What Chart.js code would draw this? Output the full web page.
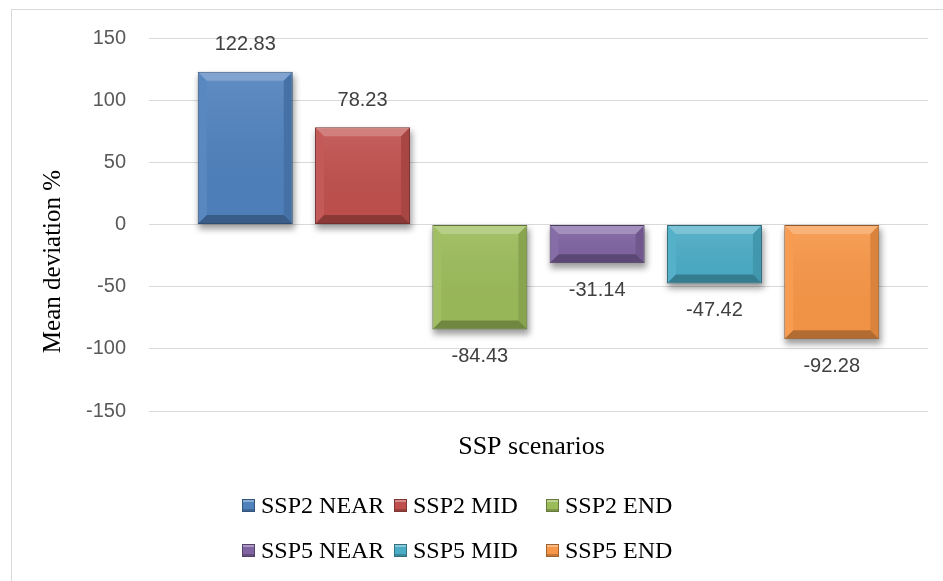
<!DOCTYPE html>
<html>
<head>
<meta charset="utf-8">
<script src="https://cdn.jsdelivr.net/npm/chart.js@4.4.1/dist/chart.umd.min.js"></script>
<style>
  html, body { margin: 0; padding: 0; background: #fff; overflow: hidden; }
  #wrap { position: relative; width: 943px; height: 581px; overflow: hidden; background: #fff; }
  #frame { position: absolute; left: 11px; top: 9px; width: 1000px; height: 1000px; border: 1px solid #d9d9d9; box-sizing: border-box; }
  canvas { position: absolute; left: 0; top: 0; }
  #legend { position: absolute; left: 242px; top: 491px; display: grid;
            grid-template-columns: 152px 152px 152px; grid-auto-rows: 28px; row-gap: 17px;
            font-family: "Liberation Serif", "Times New Roman", serif; font-size: 24px; color: #000; }
  .item { display: flex; align-items: center; white-space: nowrap; }
  .box { width: 13px; height: 13px; box-sizing: border-box; margin-right: 6px; flex: none; }
</style>
</head>
<body>
<div id="wrap">
  <div id="frame"></div>
  <canvas id="c" width="943" height="581"></canvas>
  <div id="legend"></div>
</div>
<script>
// ---- data ----
const categories = ['SSP scenarios'];
const seriesNames = ['SSP2 NEAR', 'SSP2 MID', 'SSP2 END', 'SSP5 NEAR', 'SSP5 MID', 'SSP5 END'];
const seriesValues = [122.83, 78.23, -84.43, -31.14, -47.42, -92.28];
const seriesColors = ['#4F81BD', '#C0504D', '#9BBB59', '#8064A2', '#4BACC6', '#F79646'];
const yTicks = [-150, -100, -50, 0, 50, 100, 150];
const xTitle = 'SSP scenarios';
const yTitle = 'Mean deviation %';

function shade(hex, f) {
  const n = parseInt(hex.slice(1), 16);
  let r = (n >> 16) & 255, g = (n >> 8) & 255, b = n & 255;
  if (f >= 0) { r += (255 - r) * f; g += (255 - g) * f; b += (255 - b) * f; }
  else { r *= 1 + f; g *= 1 + f; b *= 1 + f; }
  return 'rgb(' + Math.round(r) + ',' + Math.round(g) + ',' + Math.round(b) + ')';
}

const datasets = seriesNames.map((name, i) => ({
  label: name,
  data: [seriesValues[i]],
  backgroundColor: seriesColors[i],
  borderColor: shade(seriesColors[i], -0.4),
  borderWidth: 1,
  borderSkipped: false
}));

function barBox(el) {
  const w = el.width;
  return { l: el.x - w / 2, r: el.x + w / 2, t: Math.min(el.y, el.base), b: Math.max(el.y, el.base) };
}

// soft drop shadow under each bar (drawn from the bar elements' own geometry)
const shadowPlugin = {
  id: 'shadow',
  beforeDatasetsDraw(chart) {
    const ctx = chart.ctx;
    ctx.save();
    ctx.filter = 'blur(3px)';
    ctx.fillStyle = 'rgba(0,0,0,0.38)';
    chart.data.datasets.forEach((ds, di) => {
      chart.getDatasetMeta(di).data.forEach(el => {
        const bb = barBox(el);
        ctx.fillRect(bb.l + 1, bb.t + 4, bb.r - bb.l + 1, bb.b - bb.t + 1);
      });
    });
    ctx.restore();
  }
};

// bevel effect + data labels
const bevelPlugin = {
  id: 'bevel',
  afterDatasetsDraw(chart) {
    const ctx = chart.ctx;
    chart.data.datasets.forEach((ds, di) => {
      const meta = chart.getDatasetMeta(di);
      meta.data.forEach((el, j) => {
        const bb = barBox(el);
        const l = bb.l + 1, r = bb.r - 1, t = bb.t + 1, btm = bb.b - 1;
        const b = Math.min(8, (btm - t) / 2, (r - l) / 2);
        const poly = (pts, fill) => {
          ctx.beginPath();
          ctx.moveTo(pts[0][0], pts[0][1]);
          for (let k = 1; k < pts.length; k++) ctx.lineTo(pts[k][0], pts[k][1]);
          ctx.closePath();
          ctx.fillStyle = fill;
          ctx.fill();
        };
        ctx.save();
        const g = ctx.createLinearGradient(0, t, 0, btm);
        g.addColorStop(0, 'rgba(255,255,255,0.10)');
        g.addColorStop(1, 'rgba(0,0,0,0.02)');
        ctx.fillStyle = g;
        ctx.fillRect(l + b, t + b, r - l - 2 * b, btm - t - 2 * b);
        poly([[l, t], [r, t], [r - b, t + b], [l + b, t + b]], 'rgba(255,255,255,0.28)');
        poly([[l, t], [l + b, t + b], [l + b, btm - b], [l, btm]], 'rgba(255,255,255,0.06)');
        poly([[r, t], [r, btm], [r - b, btm - b], [r - b, t + b]], 'rgba(0,0,0,0.12)');
        poly([[l, btm], [r, btm], [r - b, btm - b], [l + b, btm - b]], 'rgba(0,0,0,0.28)');
        ctx.restore();

        const v = ds.data[j];
        ctx.save();
        ctx.font = '20px "Liberation Sans", Arial, sans-serif';
        ctx.fillStyle = '#404040';
        ctx.textAlign = 'center';
        ctx.textBaseline = 'middle';
        const ly = v >= 0 ? el.y - 27 : el.y + 27;
        ctx.fillText(v.toFixed(2), el.x, ly);
        ctx.restore();
      });
    });
  }
};

// shift axis titles to where the reference places them
const titleShift = {
  id: 'titleShift',
  afterLayout(chart) {
    const wrap = (s, dx, dy) => {
      if (s && !s._shiftWrapped) {
        const orig = s.drawTitle.bind(s);
        s.drawTitle = function () {
          const c = this.ctx;
          c.save();
          c.translate(dx, dy);
          orig();
          c.restore();
        };
        s._shiftWrapped = true;
      }
    };
    wrap(chart.scales.y, 0, 37);
    wrap(chart.scales.x, -7, 0);
  }
};

new Chart(document.getElementById('c'), {
  type: 'bar',
  data: { labels: categories, datasets },
  options: {
    responsive: false,
    animation: false,
    devicePixelRatio: 1,
    categoryPercentage: 0.9035,
    barPercentage: 0.81,
    layout: { padding: { left: 11, top: 38, right: 15, bottom: 118 } },
    plugins: { legend: { display: false }, tooltip: { enabled: false } },
    scales: {
      x: {
        grid: { display: false, drawTicks: false },
        border: { display: false },
        ticks: { display: false },
        title: {
          display: true, text: xTitle, color: '#000',
          font: { family: '"Liberation Serif", "Times New Roman", serif', size: 26 },
          padding: { top: 20, bottom: 0 }
        },
        afterFit(scale) { scale.height = 52; }
      },
      y: {
        min: yTicks[0], max: yTicks[yTicks.length - 1],
        afterBuildTicks(scale) { scale.ticks = yTicks.map(v => ({ value: v })); },
        grid: { color: '#d9d9d9', lineWidth: 1, drawTicks: false },
        border: { display: false },
        ticks: {
          padding: 23, color: '#595959',
          font: { family: '"Liberation Sans", Arial, sans-serif', size: 20 }
        },
        title: {
          display: true, text: yTitle, color: '#000',
          font: { family: '"Liberation Serif", "Times New Roman", serif', size: 25 },
          padding: { top: 27, bottom: 10 }
        },
        afterFit(scale) { scale.width = 138; }
      }
    }
  },
  plugins: [shadowPlugin, bevelPlugin, titleShift]
});

// HTML legend built from the series arrays
const legend = document.getElementById('legend');
seriesNames.forEach((name, i) => {
  const item = document.createElement('div');
  item.className = 'item';
  const box = document.createElement('span');
  box.className = 'box';
  box.style.background = seriesColors[i];
  box.style.border = '1px solid ' + shade(seriesColors[i], -0.35);
  box.style.boxShadow = 'inset 0 2px 0 rgba(255,255,255,0.35), inset 0 -2px 0 rgba(0,0,0,0.2)';
  const txt = document.createElement('span');
  txt.textContent = name;
  item.appendChild(box);
  item.appendChild(txt);
  legend.appendChild(item);
});
</script>
</body>
</html>
